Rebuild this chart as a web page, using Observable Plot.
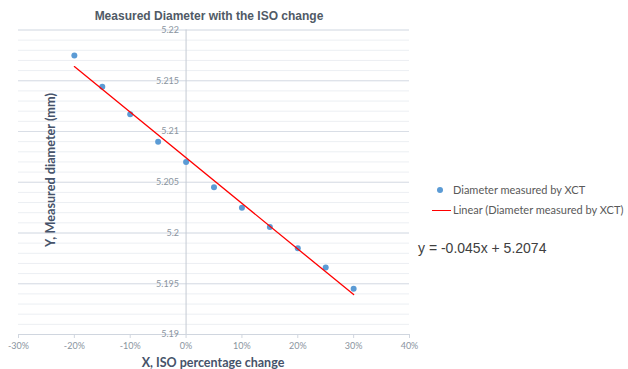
<!DOCTYPE html>
<html>
<head>
<meta charset="utf-8">
<script src="https://cdn.jsdelivr.net/npm/d3@7"></script>
<script src="https://cdn.jsdelivr.net/npm/@observablehq/plot@0.6"></script>
<style>
  html, body { margin: 0; padding: 0; background: #fff; }
  #wrap { position: relative; width: 628px; height: 369px; overflow: hidden; font-family: Lato, "Open Sans", sans-serif; }
  #wrap svg { position: absolute; left: 0; top: 0; }
  .abs { position: absolute; white-space: nowrap; }
</style>
</head>
<body>
<div id="wrap">
  <div class="abs" id="title" style="left:0;width:418px;top:9px;text-align:center;font-family:'Liberation Sans',Arial,sans-serif;font-weight:bold;font-size:12px;color:#505a66;">Measured Diameter with the ISO change</div>
  <div class="abs" id="ylab" style="left:50px;top:170px;transform:translate(-50%,-50%) rotate(-90deg);font-weight:bold;font-size:12.7px;color:#46536a;">Y, Measured diameter (mm)</div>
  <div class="abs" id="xlab" style="left:213px;top:362px;transform:translate(-50%,-50%);font-weight:bold;font-size:12.5px;color:#46536a;">X, ISO percentage change</div>
  <div class="abs" id="leg1" style="left:453px;top:183px;font-size:11px;color:#595959;">Diameter measured by XCT</div>
  <div class="abs" id="leg2" style="left:453px;top:203px;font-size:11px;color:#595959;">Linear (Diameter measured by XCT)</div>
  <div class="abs" style="left:437px;top:187px;width:6px;height:6px;border-radius:3px;background:#5b9bd5;"></div>
  <div class="abs" style="left:432px;top:210px;width:19px;height:1.3px;background:#ff0000;"></div>
  <div class="abs" id="eq" style="left:418px;top:240px;font-family:'Liberation Sans',Arial,sans-serif;font-size:14px;color:#404040;">y = -0.045x + 5.2074</div>
</div>
<script>
const isoChange = [-0.20, -0.15, -0.10, -0.05, 0.00, 0.05, 0.10, 0.15, 0.20, 0.25, 0.30];
const diameter = [5.2175, 5.2144, 5.2117, 5.2090, 5.2070, 5.2045, 5.2025, 5.2006, 5.1985, 5.1966, 5.1945];
const xTicks = [-0.3, -0.2, -0.1, 0, 0.1, 0.2, 0.3, 0.4];
const xTickLabels = ["-30%", "-20%", "-10%", "0%", "10%", "20%", "30%", "40%"];
const yTicks = [5.19, 5.195, 5.2, 5.205, 5.21, 5.215, 5.22];
const yTickLabels = ["5.19", "5.195", "5.2", "5.205", "5.21", "5.215", "5.22"];
const yMinor = d3.range(0, 31).map(i => 5.19 + i * 0.001);

const data = isoChange.map((x, i) => ({x, y: diameter[i]}));
const yTickData = yTicks.map((v, i) => ({v, label: yTickLabels[i]}));

const chart = Plot.plot({
  width: 628,
  height: 369,
  marginLeft: 18,
  marginRight: 219,
  marginTop: 29.5,
  marginBottom: 35,
  style: {background: "transparent", fontFamily: "Lato, 'Open Sans', sans-serif"},
  x: {domain: [-0.3, 0.4], label: null},
  y: {domain: [5.19, 5.22], axis: null},
  marks: [
    Plot.ruleY(yMinor, {stroke: "#eceff3", strokeWidth: 1}),
    Plot.ruleY(yTicks, {stroke: "#d9dee6", strokeWidth: 1}),
    Plot.ruleY([5.19], {stroke: "#d0d6df", strokeWidth: 1}),
    Plot.ruleX([0], {stroke: "#c4cad3", strokeWidth: 1}),
    Plot.axisX({ticks: xTicks, tickFormat: d => xTickLabels[xTicks.indexOf(d)], tickSize: 4, tickPadding: 4, stroke: "#d0d6df", fill: "#8a94a0", fontSize: 9, label: null}),
    Plot.text(yTickData, {x: 0, y: "v", text: "label", textAnchor: "end", dx: -7, fill: "#8a94a0", fontSize: 9}),
    Plot.dot(data, {x: "x", y: "y", r: 3, fill: "#5b9bd5", stroke: "none"}),
    Plot.linearRegressionY(data, {x: "x", y: "y", stroke: "#ff0000", strokeWidth: 1.3, ci: 0})
  ]
});
document.getElementById("wrap").prepend(chart);
</script>
</body>
</html>
